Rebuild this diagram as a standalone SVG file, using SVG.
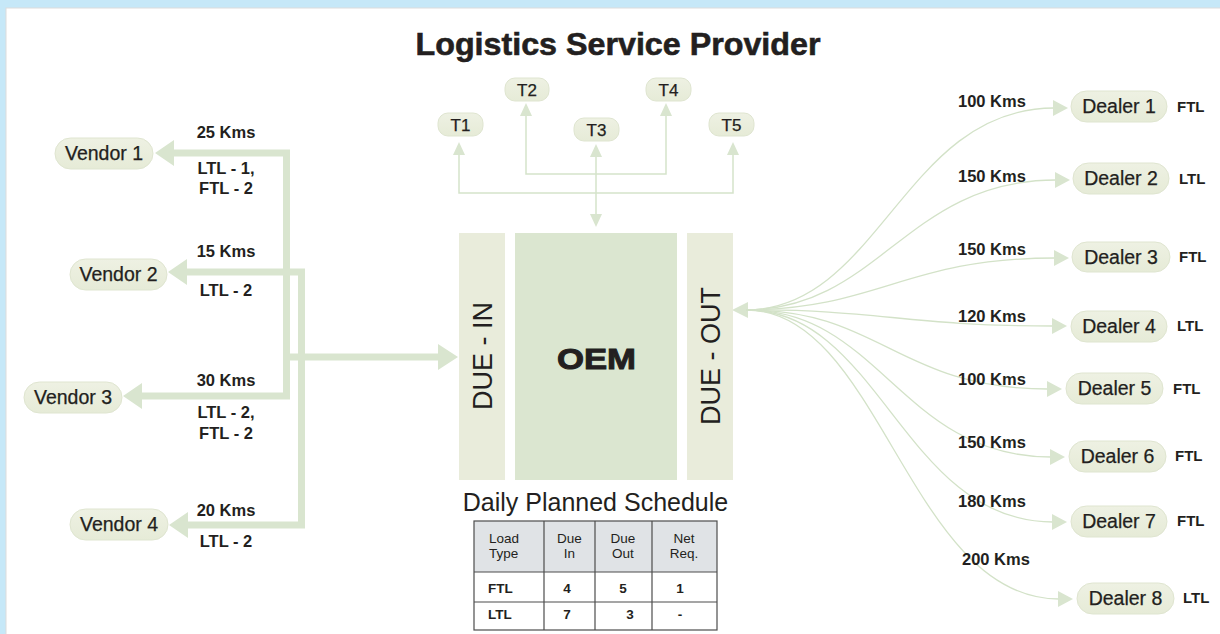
<svg xmlns="http://www.w3.org/2000/svg" width="1220" height="634" viewBox="0 0 1220 634">
  <defs>
    <linearGradient id="pillFill" x1="0" y1="0" x2="0" y2="1">
      <stop offset="0" stop-color="#eef1e3"/>
      <stop offset="1" stop-color="#e6ebd7"/>
    </linearGradient>
    <style>
      text { font-family: "Liberation Sans", Arial, Helvetica, sans-serif; fill: #231f20; }
      .pill { fill: url(#pillFill); stroke: #dfe5d0; stroke-width: 1; }
      .node-label { font-size: 19.5px; text-anchor: middle; stroke: #231f20; stroke-width: 0.25; }
      .t-label { font-size: 17px; text-anchor: middle; stroke: #231f20; stroke-width: 0.25; }
      .dist { font-size: 16.5px; font-weight: bold; }
      .mid { text-anchor: middle; }
      .load { font-size: 15px; font-weight: bold; }
      .thick { fill: none; stroke: #d9e5cf; stroke-width: 7; stroke-linejoin: miter; }
      .thin { fill: none; stroke: #d5e3ca; stroke-width: 1.5; }
      .curve { fill: none; stroke: #d3e2c8; stroke-width: 1.3; }
      .head { fill: #d9e5cf; }
      .side { fill: #e9ecdb; }
      .core { fill: #dbe6d0; }
      .cell { fill: none; stroke: #4d4d4d; stroke-width: 1.2; }
      .th { font-size: 13.5px; }
      .td { font-size: 13.5px; font-weight: bold; }
    </style>
  </defs>

  <!-- page frame -->
  <rect x="0" y="0" width="1220" height="634" fill="#c6e8f8"/>
  <rect x="6" y="8" width="1220" height="640" fill="#ffffff" stroke="#dcdcdc" stroke-width="1"/>

  <text x="618" y="55" class="mid" font-size="32" font-weight="bold" stroke="#231f20" stroke-width="0.6" textLength="405" lengthAdjust="spacingAndGlyphs">Logistics Service Provider</text>

  <!-- connectors -->
  <g id="connectors">
    <!-- inbound vendor lanes -->
    <path class="thick" d="M174,153 H286.5 V396 H142"/>
    <path class="thick" d="M187,272 H301.5 V525 H188"/>
    <path class="thick" d="M290,357 H440"/>
    <polygon class="head" points="155,153 174,140 174,166"/>
    <polygon class="head" points="123,396 142,383 142,409"/>
    <polygon class="head" points="168,272 187,259 187,285"/>
    <polygon class="head" points="169,525 188,512 188,538"/>
    <polygon class="head" points="458,357 438,344 438,370"/>

    <!-- transporter links -->
    <path class="thin" d="M459,154 V193 H733 V154"/>
    <path class="thin" d="M526,115 V174 H666 V115"/>
    <path class="thin" d="M596,156 V215"/>
    <polygon class="head" points="459,142 453,155 465,155"/>
    <polygon class="head" points="733,142 727,155 739,155"/>
    <polygon class="head" points="526,103 520,116 532,116"/>
    <polygon class="head" points="666,103 660,116 672,116"/>
    <polygon class="head" points="596,144 590,157 602,157"/>
    <polygon class="head" points="596,227 590,214 602,214"/>

    <!-- outbound dealer routes -->
    <polygon class="head" points="732,310 748,302 748,318"/>
    <path class="curve" d="M746,310 C880,309 904,108 1054,108"/>
    <path class="curve" d="M746,310 C880,309 906,180 1056,180"/>
    <path class="curve" d="M746,310 C880,309 905,258 1055,258"/>
    <path class="curve" d="M746,310 C880,309 903,326 1053,326"/>
    <path class="curve" d="M746,310 C880,309 898,389 1048,389"/>
    <path class="curve" d="M746,310 C880,309 901,457 1051,457"/>
    <path class="curve" d="M746,310 C880,309 903,522 1053,522"/>
    <path class="curve" d="M746,310 C880,309 909,599 1059,599"/>
    <polygon class="head" points="1068,108 1053,100 1053,116"/>
    <polygon class="head" points="1070,180 1055,172 1055,188"/>
    <polygon class="head" points="1069,258 1054,250 1054,266"/>
    <polygon class="head" points="1067,326 1052,318 1052,334"/>
    <polygon class="head" points="1062,389 1047,381 1047,397"/>
    <polygon class="head" points="1065,457 1050,449 1050,465"/>
    <polygon class="head" points="1067,522 1052,514 1052,530"/>
    <polygon class="head" points="1073,599 1058,591 1058,607"/>

    <!-- lane labels -->
    <text class="dist mid" x="226" y="138">25 Kms</text>
    <text class="dist mid" x="226" y="174">LTL - 1,</text>
    <text class="dist mid" x="226" y="194">FTL - 2</text>
    <text class="dist mid" x="226" y="257">15 Kms</text>
    <text class="dist mid" x="226" y="296">LTL - 2</text>
    <text class="dist mid" x="226" y="386">30 Kms</text>
    <text class="dist mid" x="226" y="418">LTL - 2,</text>
    <text class="dist mid" x="226" y="439">FTL - 2</text>
    <text class="dist mid" x="226" y="516">20 Kms</text>
    <text class="dist mid" x="226" y="547">LTL - 2</text>

    <text class="dist" x="958" y="107">100 Kms</text>
    <text class="dist" x="958" y="182">150 Kms</text>
    <text class="dist" x="958" y="255">150 Kms</text>
    <text class="dist" x="958" y="322">120 Kms</text>
    <text class="dist" x="958" y="385">100 Kms</text>
    <text class="dist" x="958" y="448">150 Kms</text>
    <text class="dist" x="958" y="507">180 Kms</text>
    <text class="dist" x="962" y="565">200 Kms</text>
  </g>

  <!-- vendors -->
  <g id="vendor-1"><rect class="pill" x="55" y="138" width="98" height="31" rx="15.5"/><text class="node-label" x="104" y="160">Vendor 1</text></g>
  <g id="vendor-2"><rect class="pill" x="70" y="259" width="97" height="31" rx="15.5"/><text class="node-label" x="118.5" y="281">Vendor 2</text></g>
  <g id="vendor-3"><rect class="pill" x="24" y="382" width="98" height="31" rx="15.5"/><text class="node-label" x="73" y="404">Vendor 3</text></g>
  <g id="vendor-4"><rect class="pill" x="70" y="509" width="98" height="31" rx="15.5"/><text class="node-label" x="119" y="531">Vendor 4</text></g>

  <!-- transporters -->
  <g id="t1"><rect class="pill" x="438" y="113" width="45" height="23" rx="10"/><text class="t-label" x="460.5" y="131">T1</text></g>
  <g id="t2"><rect class="pill" x="505" y="78" width="44" height="23" rx="10"/><text class="t-label" x="527" y="96">T2</text></g>
  <g id="t3"><rect class="pill" x="574" y="118" width="45" height="23" rx="10"/><text class="t-label" x="596.5" y="136">T3</text></g>
  <g id="t4"><rect class="pill" x="646" y="78" width="45" height="23" rx="10"/><text class="t-label" x="668.5" y="96">T4</text></g>
  <g id="t5"><rect class="pill" x="709" y="113" width="45" height="23" rx="10"/><text class="t-label" x="731.5" y="131">T5</text></g>

  <!-- OEM plant with inbound / outbound docks -->
  <g id="due-in">
    <rect class="side" x="459" y="233" width="46" height="247"/>
    <text transform="translate(492,356) rotate(-90)" class="mid" font-size="27">DUE - IN</text>
  </g>
  <g id="oem">
    <rect class="core" x="515" y="233" width="162" height="247"/>
    <text x="596.5" y="369" class="mid" font-size="30" font-weight="bold" stroke="#231f20" stroke-width="1" textLength="79" lengthAdjust="spacingAndGlyphs">OEM</text>
  </g>
  <g id="due-out">
    <rect class="side" x="687" y="233" width="46" height="247"/>
    <text transform="translate(720,356) rotate(-90)" class="mid" font-size="27">DUE - OUT</text>
  </g>

  <!-- dealers -->
  <g id="dealer-1"><rect class="pill" x="1071" y="91" width="96" height="31" rx="15.5"/><text class="node-label" x="1119" y="113">Dealer 1</text><text class="load" x="1177" y="112">FTL</text></g>
  <g id="dealer-2"><rect class="pill" x="1073" y="163" width="96" height="31" rx="15.5"/><text class="node-label" x="1121" y="185">Dealer 2</text><text class="load" x="1179" y="184">LTL</text></g>
  <g id="dealer-3"><rect class="pill" x="1072" y="242" width="98" height="30" rx="15"/><text class="node-label" x="1121" y="264">Dealer 3</text><text class="load" x="1179" y="262">FTL</text></g>
  <g id="dealer-4"><rect class="pill" x="1071" y="311" width="96" height="31" rx="15.5"/><text class="node-label" x="1119" y="333">Dealer 4</text><text class="load" x="1177" y="331">LTL</text></g>
  <g id="dealer-5"><rect class="pill" x="1066" y="373" width="97" height="31" rx="15.5"/><text class="node-label" x="1114.5" y="395">Dealer 5</text><text class="load" x="1173" y="394">FTL</text></g>
  <g id="dealer-6"><rect class="pill" x="1069" y="441" width="97" height="31" rx="15.5"/><text class="node-label" x="1117.5" y="463">Dealer 6</text><text class="load" x="1175" y="461">FTL</text></g>
  <g id="dealer-7"><rect class="pill" x="1071" y="506" width="96" height="31" rx="15.5"/><text class="node-label" x="1119" y="528">Dealer 7</text><text class="load" x="1177" y="526">FTL</text></g>
  <g id="dealer-8"><rect class="pill" x="1077" y="583" width="97" height="31" rx="15.5"/><text class="node-label" x="1125.5" y="605">Dealer 8</text><text class="load" x="1183" y="603">LTL</text></g>

  <!-- daily planned schedule table -->
  <g id="schedule">
    <text x="595.5" y="511" class="mid" font-size="25">Daily Planned Schedule</text>
    <rect x="474" y="521" width="243" height="51" fill="#e0e3e6"/>
    <rect class="cell" x="474" y="521" width="243" height="109"/>
    <path class="cell" d="M474,572 H717 M474,602 H717 M544,521 V630 M595,521 V630 M652,521 V630"/>
    <text class="th" x="489" y="543">Load</text>
    <text class="th" x="489" y="558">Type</text>
    <text class="th mid" x="569.5" y="543">Due</text>
    <text class="th mid" x="569.5" y="558">In</text>
    <text class="th mid" x="623" y="543">Due</text>
    <text class="th mid" x="623" y="558">Out</text>
    <text class="th mid" x="684" y="543">Net</text>
    <text class="th mid" x="684" y="558">Req.</text>
    <text class="td" x="488" y="593">FTL</text>
    <text class="td mid" x="567" y="593">4</text>
    <text class="td mid" x="623" y="593">5</text>
    <text class="td mid" x="680" y="593">1</text>
    <text class="td" x="488" y="619">LTL</text>
    <text class="td mid" x="567" y="619">7</text>
    <text class="td mid" x="630" y="619">3</text>
    <text class="td mid" x="680" y="619">-</text>
  </g>
</svg>
